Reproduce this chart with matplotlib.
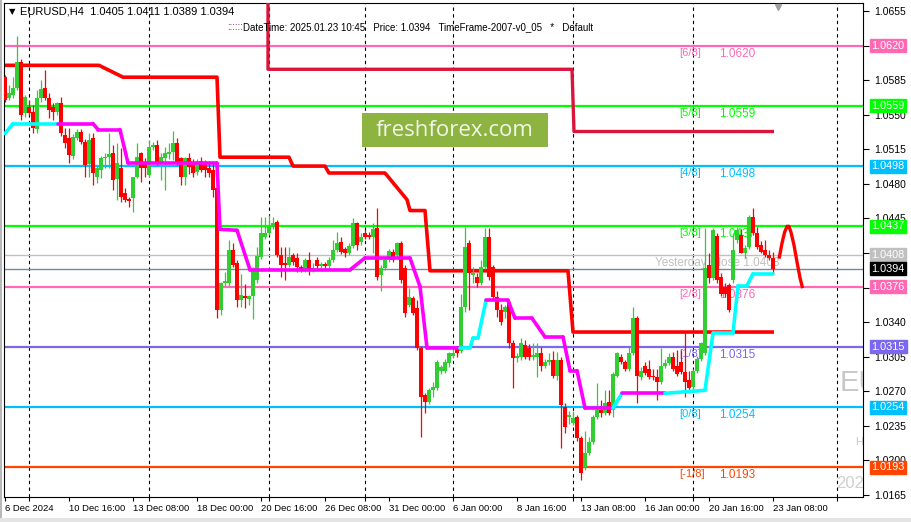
import numpy as np
import matplotlib.pyplot as plt
from matplotlib.collections import LineCollection
from matplotlib.patches import Rectangle

# H4 candles, bar 0 = 6 Dec 2024 00:00, last bar = 23 Jan 2025 08:00
opens = [
    1.0588, 1.0567, 1.0570, 1.0577, 1.0603, 1.0552, 1.0558, 1.0553, 1.0536, 1.0567,  # 0
    1.0577, 1.0567, 1.0558, 1.0553, 1.0562, 1.0529, 1.0526, 1.0508, 1.0526, 1.0533,  # 10
    1.0522, 1.0500, 1.0526, 1.0487, 1.0494, 1.0506, 1.0507, 1.0511, 1.0485, 1.0496,  # 20
    1.0471, 1.0465, 1.0466, 1.0487, 1.0511, 1.0502, 1.0489, 1.0517, 1.0519, 1.0502,  # 30
    1.0506, 1.0510, 1.0512, 1.0521, 1.0506, 1.0487, 1.0506, 1.0501, 1.0492, 1.0503,  # 40
    1.0502, 1.0496, 1.0494, 1.0476, 1.0352, 1.0380, 1.0380, 1.0413, 1.0400, 1.0362,  # 50
    1.0366, 1.0363, 1.0366, 1.0383, 1.0406, 1.0426, 1.0430, 1.0436, 1.0441, 1.0408,  # 60
    1.0400, 1.0398, 1.0408, 1.0405, 1.0396, 1.0393, 1.0403, 1.0393, 1.0403, 1.0397,  # 70
    1.0399, 1.0397, 1.0403, 1.0413, 1.0421, 1.0414, 1.0410, 1.0417, 1.0440, 1.0421,  # 80
    1.0430, 1.0428, 1.0426, 1.0435, 1.0388, 1.0395, 1.0403, 1.0411, 1.0408, 1.0420,  # 90
    1.0395, 1.0357, 1.0364, 1.0354, 1.0314, 1.0266, 1.0259, 1.0271, 1.0273, 1.0291,  # 100
    1.0291, 1.0299, 1.0306, 1.0313, 1.0311, 1.0355, 1.0420, 1.0388, 1.0386, 1.0380,  # 110
    1.0396, 1.0426, 1.0396, 1.0365, 1.0352, 1.0350, 1.0360, 1.0319, 1.0304, 1.0305,  # 120
    1.0317, 1.0314, 1.0305, 1.0305, 1.0309, 1.0296, 1.0300, 1.0302, 1.0286, 1.0302,  # 130
    1.0254, 1.0244, 1.0238, 1.0244, 1.0223, 1.0193, 1.0208, 1.0219, 1.0244, 1.0251,  # 140
    1.0248, 1.0259, 1.0251, 1.0286, 1.0305, 1.0300, 1.0293, 1.0309, 1.0344, 1.0284,  # 150
    1.0296, 1.0293, 1.0286, 1.0284, 1.0279, 1.0296, 1.0299, 1.0305, 1.0296, 1.0300,  # 160
    1.0290, 1.0281, 1.0274, 1.0291, 1.0303, 1.0309, 1.0398, 1.0385, 1.0427, 1.0386,  # 170
    1.0376, 1.0378, 1.0383, 1.0423, 1.0428, 1.0410, 1.0416, 1.0446, 1.0430, 1.0418,  # 180
    1.0413, 1.0408, 1.0405,                                                          # 190
]
highs = [
    1.0590, 1.0580, 1.0588, 1.0630, 1.0606, 1.0570, 1.0565, 1.0560, 1.0575, 1.0585,
    1.0595, 1.0572, 1.0562, 1.0563, 1.0568, 1.0537, 1.0537, 1.0530, 1.0536, 1.0536,
    1.0525, 1.0532, 1.0531, 1.0499, 1.0508, 1.0511, 1.0531, 1.0519, 1.0521, 1.0516,
    1.0476, 1.0467, 1.0487, 1.0521, 1.0512, 1.0506, 1.0524, 1.0522, 1.0524, 1.0511,
    1.0517, 1.0521, 1.0534, 1.0526, 1.0507, 1.0507, 1.0511, 1.0505, 1.0505, 1.0507,
    1.0504, 1.0501, 1.0501, 1.0479, 1.0381, 1.0391, 1.0423, 1.0420, 1.0403, 1.0389,
    1.0379, 1.0368, 1.0396, 1.0416, 1.0446, 1.0446, 1.0448, 1.0446, 1.0443, 1.0416,
    1.0416, 1.0416, 1.0410, 1.0410, 1.0398, 1.0405, 1.0411, 1.0400, 1.0406, 1.0401,
    1.0401, 1.0406, 1.0423, 1.0431, 1.0426, 1.0416, 1.0420, 1.0445, 1.0441, 1.0430,
    1.0433, 1.0431, 1.0440, 1.0456, 1.0398, 1.0406, 1.0414, 1.0414, 1.0421, 1.0422,
    1.0398, 1.0375, 1.0366, 1.0362, 1.0316, 1.0268, 1.0273, 1.0279, 1.0302, 1.0297,
    1.0303, 1.0310, 1.0314, 1.0316, 1.0369, 1.0436, 1.0423, 1.0396, 1.0390, 1.0403,
    1.0435, 1.0435, 1.0398, 1.0372, 1.0358, 1.0357, 1.0362, 1.0322, 1.0309, 1.0324,
    1.0322, 1.0318, 1.0319, 1.0319, 1.0315, 1.0303, 1.0309, 1.0311, 1.0310, 1.0305,
    1.0258, 1.0250, 1.0250, 1.0246, 1.0225, 1.0230, 1.0224, 1.0246, 1.0278, 1.0261,
    1.0271, 1.0271, 1.0290, 1.0310, 1.0308, 1.0302, 1.0315, 1.0355, 1.0346, 1.0295,
    1.0300, 1.0302, 1.0293, 1.0293, 1.0314, 1.0303, 1.0309, 1.0310, 1.0312, 1.0312,
    1.0330, 1.0291, 1.0293, 1.0306, 1.0320, 1.0435, 1.0410, 1.0435, 1.0430, 1.0390,
    1.0380, 1.0380, 1.0430, 1.0436, 1.0434, 1.0418, 1.0448, 1.0456, 1.0436, 1.0422,
    1.0423, 1.0413, 1.0411,
]
lows = [
    1.0563, 1.0565, 1.0567, 1.0575, 1.0545, 1.0548, 1.0550, 1.0531, 1.0532, 1.0563,
    1.0565, 1.0547, 1.0545, 1.0550, 1.0528, 1.0516, 1.0501, 1.0505, 1.0524, 1.0520,
    1.0487, 1.0487, 1.0479, 1.0481, 1.0486, 1.0496, 1.0496, 1.0474, 1.0464, 1.0462,
    1.0462, 1.0457, 1.0452, 1.0486, 1.0482, 1.0487, 1.0487, 1.0514, 1.0499, 1.0484,
    1.0474, 1.0505, 1.0504, 1.0499, 1.0479, 1.0479, 1.0490, 1.0487, 1.0489, 1.0492,
    1.0487, 1.0487, 1.0467, 1.0344, 1.0347, 1.0377, 1.0377, 1.0396, 1.0355, 1.0355,
    1.0354, 1.0357, 1.0343, 1.0380, 1.0404, 1.0424, 1.0428, 1.0434, 1.0406, 1.0386,
    1.0383, 1.0396, 1.0398, 1.0391, 1.0391, 1.0391, 1.0388, 1.0391, 1.0394, 1.0393,
    1.0395, 1.0394, 1.0401, 1.0411, 1.0409, 1.0406, 1.0408, 1.0415, 1.0413, 1.0418,
    1.0424, 1.0424, 1.0410, 1.0383, 1.0372, 1.0393, 1.0401, 1.0401, 1.0405, 1.0380,
    1.0345, 1.0355, 1.0347, 1.0312, 1.0224, 1.0248, 1.0257, 1.0264, 1.0271, 1.0288,
    1.0289, 1.0295, 1.0304, 1.0305, 1.0309, 1.0350, 1.0352, 1.0380, 1.0376, 1.0378,
    1.0394, 1.0383, 1.0362, 1.0345, 1.0337, 1.0344, 1.0314, 1.0273, 1.0300, 1.0302,
    1.0303, 1.0302, 1.0302, 1.0284, 1.0291, 1.0294, 1.0297, 1.0283, 1.0281, 1.0213,
    1.0228, 1.0237, 1.0236, 1.0220, 1.0180, 1.0190, 1.0206, 1.0217, 1.0242, 1.0244,
    1.0246, 1.0246, 1.0244, 1.0284, 1.0298, 1.0291, 1.0291, 1.0307, 1.0258, 1.0281,
    1.0287, 1.0282, 1.0281, 1.0261, 1.0277, 1.0294, 1.0297, 1.0291, 1.0286, 1.0288,
    1.0264, 1.0269, 1.0269, 1.0289, 1.0301, 1.0307, 1.0380, 1.0383, 1.0380, 1.0366,
    1.0365, 1.0350, 1.0380, 1.0420, 1.0410, 1.0405, 1.0414, 1.0428, 1.0414, 1.0410,
    1.0406, 1.0403, 1.0389,
]
closes = [
    1.0565, 1.0572, 1.0577, 1.0603, 1.0550, 1.0568, 1.0552, 1.0537, 1.0567, 1.0576,
    1.0567, 1.0555, 1.0553, 1.0562, 1.0531, 1.0521, 1.0509, 1.0527, 1.0533, 1.0522,
    1.0499, 1.0524, 1.0491, 1.0496, 1.0506, 1.0507, 1.0510, 1.0484, 1.0501, 1.0467,
    1.0464, 1.0463, 1.0487, 1.0507, 1.0496, 1.0496, 1.0517, 1.0519, 1.0501, 1.0507,
    1.0511, 1.0512, 1.0521, 1.0501, 1.0487, 1.0506, 1.0497, 1.0491, 1.0501, 1.0494,
    1.0494, 1.0491, 1.0474, 1.0352, 1.0380, 1.0382, 1.0413, 1.0398, 1.0362, 1.0367,
    1.0364, 1.0366, 1.0393, 1.0407, 1.0430, 1.0430, 1.0436, 1.0440, 1.0408, 1.0398,
    1.0398, 1.0406, 1.0401, 1.0396, 1.0393, 1.0403, 1.0393, 1.0395, 1.0397, 1.0399,
    1.0397, 1.0403, 1.0413, 1.0420, 1.0411, 1.0410, 1.0417, 1.0440, 1.0418, 1.0426,
    1.0426, 1.0426, 1.0434, 1.0386, 1.0395, 1.0403, 1.0412, 1.0403, 1.0420, 1.0383,
    1.0349, 1.0365, 1.0349, 1.0314, 1.0264, 1.0259, 1.0271, 1.0274, 1.0300, 1.0295,
    1.0300, 1.0309, 1.0309, 1.0309, 1.0355, 1.0416, 1.0390, 1.0390, 1.0380, 1.0396,
    1.0426, 1.0386, 1.0365, 1.0352, 1.0340, 1.0355, 1.0319, 1.0304, 1.0306, 1.0319,
    1.0305, 1.0305, 1.0307, 1.0309, 1.0296, 1.0300, 1.0302, 1.0286, 1.0302, 1.0256,
    1.0234, 1.0246, 1.0243, 1.0223, 1.0187, 1.0208, 1.0219, 1.0244, 1.0251, 1.0248,
    1.0258, 1.0248, 1.0288, 1.0309, 1.0300, 1.0293, 1.0309, 1.0344, 1.0286, 1.0291,
    1.0289, 1.0284, 1.0284, 1.0279, 1.0296, 1.0299, 1.0305, 1.0293, 1.0288, 1.0290,
    1.0279, 1.0273, 1.0291, 1.0303, 1.0319, 1.0395, 1.0385, 1.0433, 1.0383, 1.0369,
    1.0369, 1.0352, 1.0413, 1.0433, 1.0410, 1.0415, 1.0446, 1.0430, 1.0416, 1.0411,
    1.0408, 1.0405, 1.0394,
]

# Murrey math levels
mm_levels = [1.0620, 1.0559, 1.0498, 1.0437, 1.0376, 1.0315, 1.0254, 1.0193]
mm_names = ['[6/8]', '[5/8]', '[4/8]', '[3/8]', '[2/8]', '[1/8]', '[0/8]', '[-1/8]']
mm_colors = ['#FF69B4', '#00FF00', '#00BFFF', '#00FF00', '#FF69B4', '#7B68EE', '#00BFFF', '#FF4500']
yesterday_close = 1.0408
last_price = 1.0394

# trailing stop line (bar index, price), colour per segment: c = cyan, m = magenta
trail_i = [0, 2, 13.25, 22, 23.25, 28.75, 30.75, 53, 53.75, 58, 61.25, 86.25, 90, 101.25,
           103.75, 105.5, 113.75, 116.25, 117, 118.25, 120.25, 125.75, 127.5, 131.75, 135,
           139.5, 141.25, 143, 145, 152, 154.25, 165, 175, 177, 182, 183.25, 185.5, 187, 192]
trail_p = [1.0531, 1.0541, 1.0541, 1.0541, 1.0535, 1.0535, 1.0501, 1.0501, 1.0434, 1.0433,
           1.0393, 1.0393, 1.0405, 1.0405, 1.0376, 1.0314, 1.0314, 1.0314, 1.0324, 1.0324,
           1.0362, 1.0362, 1.0344, 1.0344, 1.0325, 1.0325, 1.0291, 1.0291, 1.0253, 1.0253,
           1.0268, 1.0268, 1.0271, 1.0329, 1.0329, 1.0377, 1.0377, 1.0389, 1.0389]
trail_col = 'ccmmmmmmmmmmmmmmccccmmmmmmmmmcmcccccc'

# red step line and crimson step line
red_i = [0, 23.5, 25, 29.5, 53, 53.75, 71, 72, 80, 81, 95, 100.5, 101.25, 105, 106.25, 140.75, 142, 192.25]
red_p = [1.0600, 1.0600, 1.0597, 1.0588, 1.0588, 1.0507, 1.0507, 1.0498, 1.0498, 1.0491, 1.0491,
         1.0464, 1.0453, 1.0453, 1.0392, 1.0392, 1.0330, 1.0330]
crim_i = [65.75, 65.75, 141.75, 142.25, 192.25]
crim_p = [1.0700, 1.0596, 1.0596, 1.0533, 1.0533]

# projected path at the right
proj_i = [193.6, 194.25, 194.9, 195.5, 196.0, 196.5, 197.25, 198.0, 198.75, 199.3]
proj_p = [1.0406, 1.0420, 1.0431, 1.0437, 1.0437, 1.0431, 1.0418, 1.0401, 1.0385, 1.0376]

xtick_pos = [0, 16, 32, 48, 64, 80, 96, 112, 128, 144, 160, 176, 192]
xtick_labels = ['6 Dec 2024', '10 Dec 16:00', '13 Dec 08:00', '18 Dec 00:00', '20 Dec 16:00',
                '26 Dec 08:00', '31 Dec 00:00', '6 Jan 00:00', '8 Jan 16:00', '13 Jan 08:00',
                '16 Jan 00:00', '20 Jan 16:00', '23 Jan 08:00']
week_lines = [6, 36, 66, 90, 112, 142, 172, 208]
ytick_vals = [1.0165, 1.0200, 1.0235, 1.0270, 1.0305, 1.0340, 1.0375, 1.0410, 1.0445,
              1.0480, 1.0515, 1.0550, 1.0585, 1.0620, 1.0655]
ytick_hidden = [1.0375, 1.0410, 1.0620]   # covered by the coloured price tags

plt.rcParams['font.family'] = ['Liberation Sans', 'DejaVu Sans']

W, H = 911, 522
fig = plt.figure(figsize=(W / 100, H / 100), dpi=100)
ax = fig.add_axes([4 / W, 25 / H, 859 / W, 494 / H])
ax.set_xlim(-0.25, 214.5)
ax.set_ylim(1.01630, 1.06631)

# window borders
fig.patches.append(Rectangle((0, 0), 2 / W, 1, transform=fig.transFigure,
                             facecolor='#B8B8B8', edgecolor='none'))
fig.patches.append(Rectangle((0, 0), 1, 4 / H, transform=fig.transFigure,
                             facecolor='#E4E4E4', edgecolor='none'))

for g in week_lines:
    ax.axvline(g, color='black', ls=(0, (3, 3)), lw=0.8, zorder=1)

# horizontal levels
for lev, name, colr in zip(mm_levels, mm_names, mm_colors):
    ax.axhline(lev, color=colr, lw=1.6, zorder=2)
    ax.text(168.5, lev - 0.0002, name, color=colr, fontsize=8, va='top', ha='left', zorder=2)
    ax.text(178.5, lev - 0.0002, '%.4f' % lev, color=colr, fontsize=8.5, va='top', ha='left', zorder=2)
ax.axhline(yesterday_close, color='#C0C0C0', lw=1, zorder=2)
ax.text(162.5, yesterday_close - 0.0002, 'Yesterday Close %.4f' % yesterday_close,
        color='#C0C0C0', fontsize=8.5, va='top', ha='left', zorder=2)
ax.axhline(last_price, color='#778899', lw=1, zorder=2)

# step lines
ax.plot(crim_i, crim_p, color='#DC143C', lw=2.4, zorder=3, solid_capstyle='butt')
ax.plot(red_i, red_p, color='#FF0000', lw=2.6, zorder=3, solid_capstyle='butt')
ax.plot(proj_i, proj_p, color='#FF0000', lw=2.4, zorder=3)

# candles
x = np.arange(len(closes))
o, h, l, c = map(np.array, (opens, highs, lows, closes))
cols = np.where(c >= o, '#32CD32', '#FF0000')
ax.vlines(x, l, h, colors=cols, lw=0.9, zorder=4)
ax.bar(x, np.maximum(np.abs(c - o), 0.00008), bottom=np.minimum(o, c), width=0.78,
       color=cols, linewidth=0, zorder=4)

# trailing line
pts = np.column_stack([trail_i, trail_p])
segs = [pts[k:k + 2] for k in range(len(pts) - 1)]
seg_cols = ['#00FFFF' if ch == 'c' else '#FF00FF' for ch in trail_col]
ax.add_collection(LineCollection(segs, colors=seg_cols, linewidths=2.6, zorder=5, capstyle='round'))

# axes styling
ax.yaxis.tick_right()
ax.set_yticks(ytick_vals)
ax.set_yticklabels(['' if v in ytick_hidden else '%.4f' % v for v in ytick_vals])
ax.set_xticks(xtick_pos)
ax.set_xticklabels(xtick_labels, ha='left')
ax.set_xticks(week_lines, minor=True)
ax.tick_params(axis='both', which='both', width=0.8, colors='black')
ax.tick_params(axis='y', labelsize=7.5, length=4, pad=4)
ax.tick_params(axis='x', which='both', labelsize=6.8, length=3, pad=2)
for sp in ax.spines.values():
    sp.set_linewidth(0.8)

# coloured price tags at the right
ytr = ax.get_yaxis_transform()
tags = list(zip(mm_levels, mm_colors)) + [(yesterday_close, '#C0C0C0'), (last_price, '#000000')]
for lev, colr in tags:
    ax.text(1.010, lev, '%.4f' % lev, transform=ytr, color='white', fontsize=7.8, va='center',
            ha='left', clip_on=False, zorder=10,
            bbox=dict(boxstyle='square,pad=0.14', fc=colr, ec=colr))

# faint clipped texts at right edge
ax.text(208.7, 1.0278, 'EU', fontsize=21, color='#C8C8C8', va='center', ha='left', clip_on=True)
ax.text(212.5, 1.0219, 'HI', fontsize=8, color='#C8C8C8', va='center', ha='left', clip_on=True)
ax.text(207.7, 1.0177, '2025', fontsize=12, color='#D0D0D0', va='center', ha='left', clip_on=True)

# chart shift marker
ax.plot([193.2], [1.0659], marker='v', color='#A0A0A0', markersize=5, clip_on=False, zorder=6)

# header texts
fig.text(9 / W, 1 - 12 / H, '\u25bc', fontsize=6, va='center', ha='left', family='DejaVu Sans')
fig.text(20 / W, 1 - 12 / H, 'EURUSD,H4  1.0405 1.0411 1.0389 1.0394', fontsize=8, va='center', ha='left')
fig.text(227 / W, 1 - 27 / H, '::::::', fontsize=7, va='center', ha='left', color='#800080')
fig.text(243 / W, 1 - 27 / H, 'DateTime: 2025.01.23 10:45   Price: 1.0394   '
         'TimeFrame-2007-v0_05   *   Default', fontsize=7, va='center', ha='left')

# watermark
fig.patches.append(Rectangle((362 / W, 1 - 147 / H), 186 / W, 34 / H, transform=fig.transFigure,
                             facecolor='#8DB340', edgecolor='none', zorder=8))
fig.text(455 / W, 1 - 130 / H, 'freshforex.com', fontsize=16, color='#F2F6E8',
         family='Open Sans', va='center', ha='center', zorder=9)

fig.savefig('out.png', dpi=100)
